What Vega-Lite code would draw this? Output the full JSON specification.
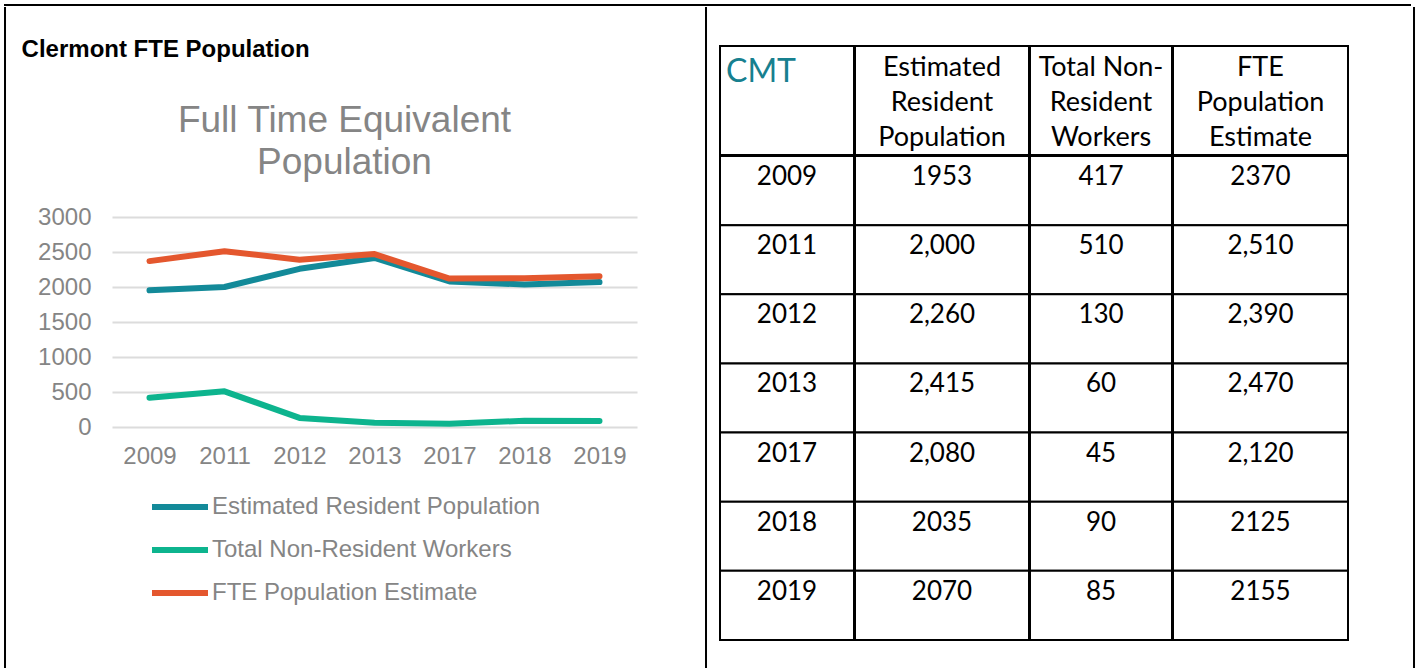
{
  "$schema": "https://vega.github.io/schema/vega-lite/v6.json",
  "background": "white",
  "padding": {"left": 4, "top": 4, "right": 0, "bottom": 0},
  "config": {"view": {"stroke": null}},
  "datasets": {
    "chart": [
      {"year": "2009", "series": "Estimated Resident Population", "value": 1953},
      {"year": "2011", "series": "Estimated Resident Population", "value": 2000},
      {"year": "2012", "series": "Estimated Resident Population", "value": 2260},
      {"year": "2013", "series": "Estimated Resident Population", "value": 2415},
      {"year": "2017", "series": "Estimated Resident Population", "value": 2080},
      {"year": "2018", "series": "Estimated Resident Population", "value": 2035},
      {"year": "2019", "series": "Estimated Resident Population", "value": 2070},
      {"year": "2009", "series": "Total Non-Resident Workers", "value": 417},
      {"year": "2011", "series": "Total Non-Resident Workers", "value": 510},
      {"year": "2012", "series": "Total Non-Resident Workers", "value": 130},
      {"year": "2013", "series": "Total Non-Resident Workers", "value": 60},
      {"year": "2017", "series": "Total Non-Resident Workers", "value": 45},
      {"year": "2018", "series": "Total Non-Resident Workers", "value": 90},
      {"year": "2019", "series": "Total Non-Resident Workers", "value": 85},
      {"year": "2009", "series": "FTE Population Estimate", "value": 2370},
      {"year": "2011", "series": "FTE Population Estimate", "value": 2510},
      {"year": "2012", "series": "FTE Population Estimate", "value": 2390},
      {"year": "2013", "series": "FTE Population Estimate", "value": 2470},
      {"year": "2017", "series": "FTE Population Estimate", "value": 2120},
      {"year": "2018", "series": "FTE Population Estimate", "value": 2125},
      {"year": "2019", "series": "FTE Population Estimate", "value": 2155}
    ],
    "table": [
      {"year": "2009", "est": "1953", "non": "417", "fte": "2370"},
      {"year": "2011", "est": "2,000", "non": "510", "fte": "2,510"},
      {"year": "2012", "est": "2,260", "non": "130", "fte": "2,390"},
      {"year": "2013", "est": "2,415", "non": "60", "fte": "2,470"},
      {"year": "2017", "est": "2,080", "non": "45", "fte": "2,120"},
      {"year": "2018", "est": "2035", "non": "90", "fte": "2125"},
      {"year": "2019", "est": "2070", "non": "85", "fte": "2155"}
    ]
  },
  "spacing": 0,
  "vconcat": [
    {
      "width": 1405, "height": 0.01,
      "view": {"stroke": "black", "strokeWidth": 2},
      "data": {"values": []},
      "mark": {"type": "point", "opacity": 0}
    },
    {
      "spacing": 0,
      "hconcat": [
        {"width": 0.01, "height": 664, "view": {"stroke": "black", "strokeWidth": 2}, "data": {"values": []}, "mark": {"type": "point", "opacity": 0}},
        {"width": 14, "height": 1, "data": {"values": []}, "mark": {"type": "point", "opacity": 0}},
        {
          "spacing": 0,
          "vconcat": [
            {"width": 1, "height": 30, "data": {"values": []}, "mark": {"type": "point", "opacity": 0}},
            {
              "title": {"text": "Clermont FTE Population", "anchor": "start", "dx": -16, "offset": 40, "font": "Liberation Sans", "fontSize": 24, "fontWeight": "bold", "color": "black"},
              "vconcat": [
                {
                  "width": 525, "height": 210,
                  "title": {"text": ["Full Time Equivalent", "Population"], "frame": "group", "anchor": "middle", "dx": -30, "offset": 23, "lineHeight": 42, "font": "Liberation Sans", "fontSize": 37, "fontWeight": "normal", "color": "#858585"},
                  "data": {"name": "chart"},
                  "mark": {"type": "line", "strokeWidth": 6, "strokeCap": "round", "strokeJoin": "round"},
                  "encoding": {
                    "x": {"field": "year", "type": "ordinal", "scale": {"type": "point", "padding": 0.5},
                      "axis": {"title": null, "domain": false, "ticks": false, "labelAngle": 0, "labelPadding": 17, "labelFont": "Liberation Sans", "labelFontSize": 24, "labelColor": "#858585"}},
                    "y": {"field": "value", "type": "quantitative", "scale": {"domain": [0, 3000], "nice": false},
                      "axis": {"title": null, "format": "d", "values": [0, 500, 1000, 1500, 2000, 2500, 3000], "domain": false, "ticks": false, "labelPadding": 21, "labelFont": "Liberation Sans", "labelFontSize": 24, "labelColor": "#858585", "gridColor": "#dcdcdc", "gridWidth": 2}},
                    "color": {"field": "series", "type": "nominal",
                      "scale": {"domain": ["Estimated Resident Population", "Total Non-Resident Workers", "FTE Population Estimate"], "range": ["#138a99", "#0db48e", "#e4572e"]},
                      "legend": {"title": null, "orient": "none", "legendX": 144, "legendY": 471, "direction": "vertical", "symbolType": "stroke", "symbolSize": 3136, "symbolStrokeWidth": 6, "labelOffset": 1, "labelLimit": 600, "labelFont": "Liberation Sans", "labelFontSize": 24, "labelColor": "#858585", "rowPadding": -2}}
                  }
                }
              ]
            }
          ]
        },
        {"width": 68, "height": 1, "data": {"values": []}, "mark": {"type": "point", "opacity": 0}},
        {"width": 0.01, "height": 664, "view": {"stroke": "black", "strokeWidth": 2}, "data": {"values": []}, "mark": {"type": "point", "opacity": 0}},
        {"width": 11, "height": 1, "data": {"values": []}, "mark": {"type": "point", "opacity": 0}},
        {
          "spacing": 0,
          "vconcat": [
            {"width": 1, "height": 37, "data": {"values": []}, "mark": {"type": "point", "opacity": 0}},
            {
              "spacing": -2,
              "vconcat": [
                {
                  "spacing": -2,
                  "hconcat": [
                    {"width": 134, "height": 109, "view": {"stroke": "black", "strokeWidth": 2}, "data": {"values": [{"label": "CMT"}]},
                     "mark": {"type": "text", "font": "Lato", "fontSize": 32, "color": "#17808f", "align": "left", "baseline": "top", "dx": -61, "dy": -43.5},
                     "encoding": {"text": {"field": "label"}}},
                    {"width": 174, "height": 109, "view": {"stroke": "black", "strokeWidth": 2}, "data": {"values": [{"label": "Estimated\nResident\nPopulation"}]},
                     "mark": {"type": "text", "font": "Lato", "fontSize": 27, "color": "black", "align": "center", "baseline": "top", "lineBreak": "\n", "lineHeight": 35, "dy": -46},
                     "encoding": {"text": {"field": "label"}}},
                    {"width": 142, "height": 109, "view": {"stroke": "black", "strokeWidth": 2}, "data": {"values": [{"label": "Total Non-\nResident\nWorkers"}]},
                     "mark": {"type": "text", "font": "Lato", "fontSize": 27, "color": "black", "align": "center", "baseline": "top", "lineBreak": "\n", "lineHeight": 35, "dy": -46},
                     "encoding": {"text": {"field": "label"}}},
                    {"width": 175, "height": 109, "view": {"stroke": "black", "strokeWidth": 2}, "data": {"values": [{"label": "FTE\nPopulation\nEstimate"}]},
                     "mark": {"type": "text", "font": "Lato", "fontSize": 27, "color": "black", "align": "center", "baseline": "top", "lineBreak": "\n", "lineHeight": 35, "dy": -46},
                     "encoding": {"text": {"field": "label"}}}
                  ]
                },
                {
                  "spacing": -2,
                  "hconcat": [
                    {"width": 134, "height": 484, "data": {"name": "table"},
                     "layer": [
                       {"mark": {"type": "rect", "fill": "white", "stroke": "black", "strokeWidth": 2},
                        "encoding": {"y": {"field": "year", "type": "ordinal", "sort": null, "scale": {"paddingInner": 0, "paddingOuter": 0}, "axis": null}}},
                       {"mark": {"type": "text", "font": "Lato", "fontSize": 26, "color": "black", "baseline": "top", "dy": 8},
                        "encoding": {"y": {"field": "year", "type": "ordinal", "sort": null, "bandPosition": 0, "axis": null}, "text": {"field": "year"}}}
                     ]},
                    {"width": 174, "height": 484, "data": {"name": "table"},
                     "layer": [
                       {"mark": {"type": "rect", "fill": "white", "stroke": "black", "strokeWidth": 2},
                        "encoding": {"y": {"field": "year", "type": "ordinal", "sort": null, "scale": {"paddingInner": 0, "paddingOuter": 0}, "axis": null}}},
                       {"mark": {"type": "text", "font": "Lato", "fontSize": 26, "color": "black", "baseline": "top", "dy": 8},
                        "encoding": {"y": {"field": "year", "type": "ordinal", "sort": null, "bandPosition": 0, "axis": null}, "text": {"field": "est"}}}
                     ]},
                    {"width": 142, "height": 484, "data": {"name": "table"},
                     "layer": [
                       {"mark": {"type": "rect", "fill": "white", "stroke": "black", "strokeWidth": 2},
                        "encoding": {"y": {"field": "year", "type": "ordinal", "sort": null, "scale": {"paddingInner": 0, "paddingOuter": 0}, "axis": null}}},
                       {"mark": {"type": "text", "font": "Lato", "fontSize": 26, "color": "black", "baseline": "top", "dy": 8},
                        "encoding": {"y": {"field": "year", "type": "ordinal", "sort": null, "bandPosition": 0, "axis": null}, "text": {"field": "non"}}}
                     ]},
                    {"width": 175, "height": 484, "data": {"name": "table"},
                     "layer": [
                       {"mark": {"type": "rect", "fill": "white", "stroke": "black", "strokeWidth": 2},
                        "encoding": {"y": {"field": "year", "type": "ordinal", "sort": null, "scale": {"paddingInner": 0, "paddingOuter": 0}, "axis": null}}},
                       {"mark": {"type": "text", "font": "Lato", "fontSize": 26, "color": "black", "baseline": "top", "dy": 8},
                        "encoding": {"y": {"field": "year", "type": "ordinal", "sort": null, "bandPosition": 0, "axis": null}, "text": {"field": "fte"}}}
                     ]}
                  ]
                }
              ]
            }
          ]
        },
        {"width": 64, "height": 1, "data": {"values": []}, "mark": {"type": "point", "opacity": 0}},
        {"width": 0.01, "height": 664, "view": {"stroke": "black", "strokeWidth": 2}, "data": {"values": []}, "mark": {"type": "point", "opacity": 0}}
      ]
    }
  ]
}
